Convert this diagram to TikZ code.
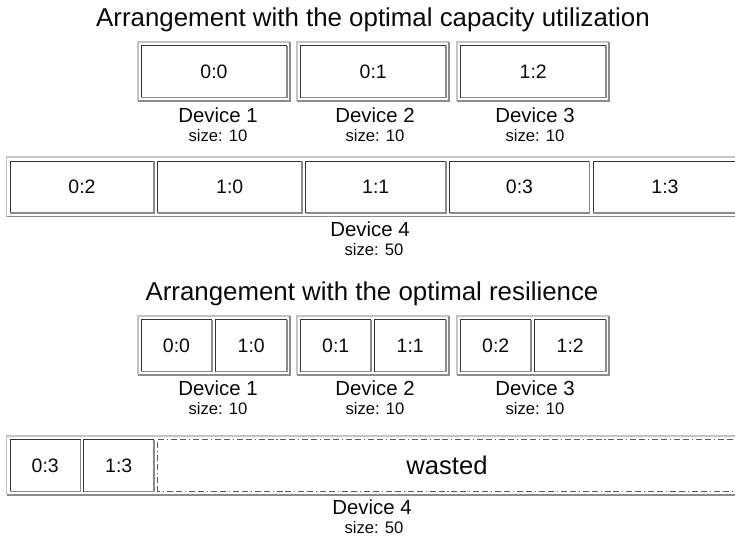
\documentclass[tikz,border=0pt]{standalone}
\usepackage{fontspec}
\setmainfont{Liberation Sans}
\definecolor{framelight}{HTML}{C4C4C4}
\definecolor{framedark}{HTML}{8C8C8C}
\definecolor{celldarkc}{HTML}{333333}
\definecolor{celllightc}{HTML}{8A8A8A}
\definecolor{inkc}{HTML}{0A0A0A}
\tikzset{
  titletext/.style={font=\fontsize{19.4}{23}\selectfont, text=inkc, inner sep=0pt},
  devtext/.style={font=\fontsize{15.3}{18}\selectfont, text=inkc, inner sep=0pt},
  sizetext/.style={font=\fontsize{12.5}{15}\selectfont, text=inkc, inner sep=0pt},
  celltext/.style={font=\fontsize{14.6}{17}\selectfont, text=inkc},
  wastedtext/.style={font=\fontsize{19.2}{23}\selectfont, text=inkc, inner sep=0pt},
  blank/.style={inner sep=0pt, outer sep=0pt},
  framehi/.style={draw=framelight, line width=1.1pt},
  framelo/.style={draw=framedark, line width=1.1pt},
  cellhi/.style={draw=celldarkc, line width=0.75pt},
  celllo/.style={draw=celllightc, line width=0.9pt},
  wasteline/.style={draw=celldarkc!80, line width=0.7pt,
    dash pattern=on 4.5pt off 2.2pt on 4.5pt off 2.2pt on 0.8pt off 2.2pt},
}
% a sunken rectangle: #1 name, #2..#5 = x1 y1 x2 y2 (pixels), #6/#7 edge styles
\newcommand\bevelbox[7]{%
  \node[blank, minimum width={(#4-#2)*0.75pt}, minimum height={(#5-#3)*0.75pt}]
    (#1) at ({(#2+#4)/2},{(#3+#5)/2}) {};
  \draw[#6] (#1.south west) -- (#1.north west) -- (#1.north east);
  \draw[#7] (#1.south west) -- (#1.south east) -- (#1.north east);
}
% one device outline
\newcommand\devframe[5]{\bevelbox{#1}{#2}{#3}{#4}{#5}{framehi}{framelo}}
% one cell with its text
\newcommand\shardcell[6]{%
  \bevelbox{#1}{#2}{#3}{#4}{#5}{cellhi}{celllo}%
  \node[celltext] (#1t) at (#1.center) {#6};
}
\begin{document}
\begin{tikzpicture}[x=0.75pt, y=-0.75pt]
\useasboundingbox (0,0) rectangle (735,539);
\clip (0,0) rectangle (735,539);

% ---------- capacity-optimal arrangement ----------
\node[titletext] (title1) at (373,19.5) {Arrangement with the optimal capacity utilization};

\devframe{a1}{138}{42}{290}{101}
\shardcell{a1x}{141}{45.5}{287}{97.5}{0:0}
\devframe{a2}{297}{42}{449}{101}
\shardcell{a2x}{300.5}{45.5}{446}{97.5}{0:1}
\devframe{a3}{457}{42}{609}{101}
\shardcell{a3x}{460.5}{45.5}{606}{97.5}{1:2}

\node[devtext]  (a1n) at (218,115) {Device 1};
\node[sizetext] (a1s) at (218,136) {size: 10};
\node[devtext]  (a2n) at (375,115) {Device 2};
\node[sizetext] (a2s) at (375,136) {size: 10};
\node[devtext]  (a3n) at (535,115) {Device 3};
\node[sizetext] (a3s) at (535,136) {size: 10};

\devframe{a4}{6.5}{157}{741}{216.5}
\shardcell{a4p}{10}{161}{154}{213}{0:2}
\shardcell{a4q}{157.5}{161}{302}{213}{1:0}
\shardcell{a4r}{305.5}{161}{446}{213}{1:1}
\shardcell{a4s}{449.5}{161}{589.5}{213}{0:3}
\shardcell{a4t}{593}{161}{737}{213}{1:3}

\node[devtext]  (a4n) at (370,229) {Device 4};
\node[sizetext] (a4z) at (374,250) {size: 50};

% ---------- resilience-optimal arrangement ----------
\node[titletext] (title2) at (372,293.5) {Arrangement with the optimal resilience};

\devframe{b1}{138}{316}{290}{375}
\shardcell{b1x}{141}{319.5}{212}{371.5}{0:0}
\shardcell{b1y}{215.5}{319.5}{287}{371.5}{1:0}
\devframe{b2}{297}{316}{449}{375}
\shardcell{b2x}{300.5}{319.5}{371}{371.5}{0:1}
\shardcell{b2y}{374.5}{319.5}{446}{371.5}{1:1}
\devframe{b3}{457}{316}{609}{375}
\shardcell{b3x}{460.5}{319.5}{531}{371.5}{0:2}
\shardcell{b3y}{534.5}{319.5}{606}{371.5}{1:2}

\node[devtext]  (b1n) at (218,388) {Device 1};
\node[sizetext] (b1s) at (218,409) {size: 10};
\node[devtext]  (b2n) at (375,388) {Device 2};
\node[sizetext] (b2s) at (375,409) {size: 10};
\node[devtext]  (b3n) at (535,388) {Device 3};
\node[sizetext] (b3s) at (535,409) {size: 10};

\devframe{b4}{6.5}{436}{744}{495}
\shardcell{b4p}{10}{439.5}{80.5}{491.5}{0:3}
\shardcell{b4q}{83.5}{439.5}{154}{491.5}{1:3}
\node[blank, minimum width={(741-157.5)*0.75pt}, minimum height={(491.5-439.5)*0.75pt}]
  (b4w) at ({(157.5+741)/2},{(439.5+491.5)/2}) {};
\draw[wasteline] (b4w.south west) rectangle (b4w.north east);
\node[wastedtext] (b4wt) at (447,465) {wasted};

\node[devtext]  (b4n) at (372,507) {Device 4};
\node[sizetext] (b4z) at (374,528) {size: 50};
\end{tikzpicture}
\end{document}
